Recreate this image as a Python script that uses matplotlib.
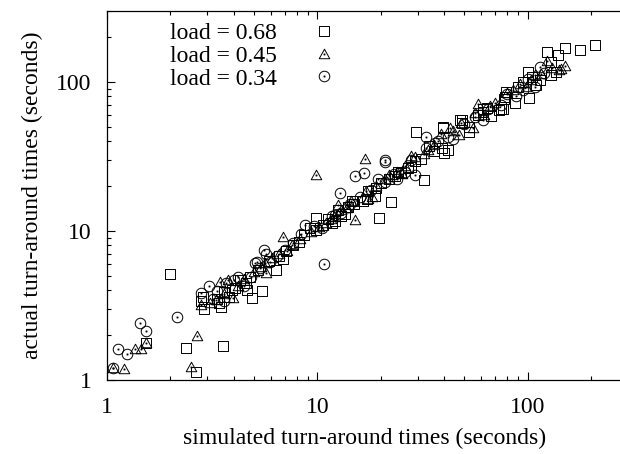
#---------------------------------------------------------------------------------------------------------------------------
# Simulated vs actual turn-around times (log-log scatter, gnuplot look)
#---------------------------------------------------------------------------------------------------------------------------
import numpy as np                      # Numerical arrays
import matplotlib                       # Matplotlib
matplotlib.use('Agg')
import matplotlib.pyplot as plt         # Plotting library
from matplotlib.path import Path        # Custom marker paths
from matplotlib import ticker           # Tick formatting
#---------------------------------------------------------------------------------------------------------------------------
# Data (seconds): simulated (x) and actual (y) turn-around times for each load
sim_068 = [1.53, 2.37, 2.64, 3.57, 1.99, 2.81, 3.33, 3.50, 3.91, 4.05, 4.57, 4.64, 4.90, 5.47, 6.33,
           7.67, 9.83, 19.6, 22.5, 32.1, 29.5, 39.7, 47.5, 124, 151, 178, 208, 140, 129, 137,
           129, 100, 101, 79, 78, 77.5, 86.6, 75, 73, 76, 61, 61, 67, 49, 49,
           52.5, 52.5, 39.6, 39, 42, 40, 31, 28, 29, 25, 23.5, 22, 19, 17.5, 18.8,
           15, 14, 13.5, 12.5, 11.3, 10.6, 9.2, 8.6, 7.1, 6.6, 5.9, 5.2, 4.3, 3.8, 3.4,
           2.9, 95, 105, 110, 115, 90, 64, 58, 34, 36, 27, 20, 16.5, 13, 11.8,
           9.9, 8.2, 6.9, 4.8, 3.6, 2.85, 12.1, 14.6, 17.2, 24.2]
act_068 = [1.76, 1.63, 1.14, 1.69, 5.13, 3.41, 3.50, 3.10, 4.02, 4.12, 4.46, 4.02, 3.54, 3.95, 5.47,
           8.05, 12.3, 12.2, 15.6, 22.0, 46.5, 48.8, 55.6, 158, 168, 165, 178, 153, 137, 117,
           111, 117, 77.7, 86, 79, 77, 72.5, 66, 65, 66, 66, 63, 59, 56, 53,
           50, 46.5, 49.9, 36, 35, 33.5, 30.3, 27, 29.5, 24.5, 23.3, 22.5, 19.5, 18.5, 17.2,
           15.3, 14.5, 13, 13.8, 12.1, 11, 10.5, 9.4, 7.3, 6.8, 6.3, 5.5, 4.7, 3.6, 3.3,
           3.0, 100, 108, 95, 104, 92, 67, 60, 37, 34.5, 26.5, 21, 16, 12.7, 11.4,
           10.1, 8.4, 6.5, 4.9, 3.9, 3.6, 11.6, 15.8, 16.3, 25.0]

sim_045 = [1.07, 1.21, 1.36, 1.45, 1.53, 2.67, 2.51, 2.81, 3.29, 3.44, 3.77, 3.98, 5.63, 5.70, 6.87,
           9.9, 15.1, 16.8, 38.9, 42.6, 47, 55, 58, 56, 123, 141, 144, 28, 29, 44,
           66, 92, 108, 116, 104, 80, 70, 36, 32, 24, 21, 19, 17, 14.5, 13,
           12, 11, 10.2, 9.3, 8.3, 7.6, 6.6, 6.1, 5.0, 4.5, 4.2, 3.6, 3.1, 12.5, 13.8,
           17.5, 22, 26, 48, 62, 85, 98, 130, 7.2, 5.4, 150, 18.2, 25.2, 33.5, 11.6]
act_045 = [1.20, 1.18, 1.61, 1.62, 1.76, 1.98, 1.22, 3.18, 3.44, 4.52, 4.69, 3.54, 6.07, 5.20, 9.05,
           23.7, 11.8, 30.4, 44.5, 48.8, 44, 49, 71, 62, 138, 121, 122, 32, 31.5, 47,
           69, 97, 112, 113, 103, 85, 72, 38, 33, 25, 22.5, 20, 18.5, 16, 13.8,
           12.5, 11.4, 10.6, 9.9, 8.8, 8.1, 7.0, 6.6, 5.3, 4.8, 4.3, 3.8, 3.3, 15, 14.2,
           16.5, 23.8, 27.5, 53, 60, 88, 92, 125, 7.4, 5.7, 128, 17.0, 24.0, 34.8, 12.0]

sim_034 = [1.07, 1.13, 1.24, 1.43, 1.53, 2.16, 2.81, 3.06, 3.34, 3.67, 4.01, 4.21, 4.83, 5.04, 5.18,
           5.33, 5.95, 5.57, 5.7, 10.7, 12.8, 15.1, 16.7, 20.9, 20.9, 29.1, 32.7, 36.1, 61, 88,
           108, 115, 42, 44, 26, 24, 18, 16, 14.3, 13, 11.8, 10.5, 9.6, 8.7, 8.4,
           7.7, 7, 6.4, 4.5, 3.6, 3.2, 50, 56, 65, 75, 95, 100, 120, 28, 33,
           21, 19.5, 14.0, 12.2, 23.2, 37.5, 80]
act_034 = [1.20, 1.61, 1.49, 2.40, 2.14, 2.66, 3.82, 4.27, 3.95, 4.46, 4.69, 4.94, 4.94, 6.07, 6.23,
           5.61, 6.23, 7.5, 7.0, 6.0, 18.1, 23.5, 24.6, 29.1, 30, 23.7, 42.5, 38.7, 55.6, 81,
           92, 127, 43, 41.5, 24.8, 22.2, 19, 17, 15.2, 13.2, 12.6, 10.4, 10.8, 11, 9.6,
           8.3, 7.5, 6.8, 4.3, 3.4, 3.5, 52, 58, 66, 70, 88, 105, 115, 30, 36,
           21.5, 22.3, 14.6, 12.9, 24.0, 40.0, 83]

labels = ['load = 0.68', 'load = 0.45', 'load = 0.34']
#---------------------------------------------------------------------------------------------------------------------------
# gnuplot-like open markers with a small dot in the middle
def dotted(outer):
    dot = Path.unit_rectangle().transformed(
        matplotlib.transforms.Affine2D().translate(-0.5, -0.5).scale(0.09))
    return Path.make_compound_path(outer, dot)

square = dotted(Path([(-0.5, -0.5), (0.5, -0.5), (0.5, 0.5), (-0.5, 0.5), (-0.5, -0.5)],
                     [Path.MOVETO, Path.LINETO, Path.LINETO, Path.LINETO, Path.CLOSEPOLY]))
triangle = dotted(Path([(-0.5, -0.4), (0.5, -0.4), (0.0, 0.5), (-0.5, -0.4)],
                       [Path.MOVETO, Path.LINETO, Path.LINETO, Path.CLOSEPOLY]))
circle = dotted(Path.circle((0, 0), 0.5))
#---------------------------------------------------------------------------------------------------------------------------
plt.rcParams['font.family'] = ['Liberation Serif', 'DejaVu Serif']
plt.rcParams['font.size'] = 17

fig = plt.figure(figsize=(6.2, 4.54), dpi=100)
ax = fig.add_axes([0.1726, 0.1630, 0.8403, 0.8128])

style = dict(linestyle='none', markerfacecolor='none', markeredgecolor='black',
             markeredgewidth=0.7, markersize=7.6)
ax.plot(sim_068, act_068, marker=square, label=labels[0], **style)
ax.plot(sim_045, act_045, marker=triangle, label=labels[1], **style)
ax.plot(sim_034, act_034, marker=circle, label=labels[2], **style)

# Log axes and limits
ax.set_xscale('log')
ax.set_yscale('log')
ax.set_xlim(1, 300)
ax.set_ylim(1, 300)

# Ticks: inward, mirrored on top, no right side
for axis in (ax.xaxis, ax.yaxis):
    axis.set_major_formatter(ticker.FuncFormatter(lambda v, p: f'{v:g}'))
    axis.set_minor_formatter(ticker.NullFormatter())
ax.tick_params(which='both', direction='in', top=True, right=False, width=0.8)
ax.tick_params(which='major', length=5.8)
ax.tick_params(which='minor', length=2.9)
ax.tick_params(axis='x', pad=12)
ax.tick_params(axis='y', pad=11)
ax.spines['right'].set_visible(False)
for s in ('left', 'bottom', 'top'):
    ax.spines[s].set_linewidth(0.9)

# Axis labels
ax.set_xlabel('simulated turn-around times (seconds)')
ax.set_ylabel('actual turn-around times (seconds)')
ax.xaxis.set_label_coords(0.495, -0.13)
ax.yaxis.set_label_coords(-0.122, 0.5)

# Legend (text first, marker after)
ax.legend(loc='upper left', bbox_to_anchor=(0.121, 0.968), frameon=False, markerfirst=False,
          borderpad=0, borderaxespad=0, handlelength=2.0, handletextpad=1.0, labelspacing=0.05)
#---------------------------------------------------------------------------------------------------------------------------
plt.savefig('out.png', dpi=100)
